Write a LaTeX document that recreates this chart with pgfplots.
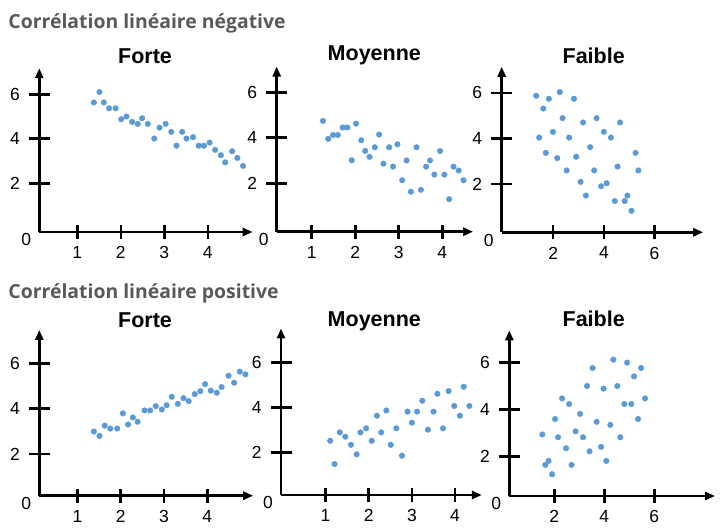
\documentclass[border=0pt]{standalone}
\usepackage{fontspec}
\setmainfont{Liberation Sans}
\newfontfamily\headfont{Open Sans}
\usepackage{pgfplots}
\pgfplotsset{compat=1.18}
\usetikzlibrary{arrows.meta}

\definecolor{dotblue}{HTML}{5B9BD5}
\definecolor{headgray}{HTML}{595959}

\pgfplotsset{
  nuage/.style={
    axis lines=left,
    clip=false,
    axis line style={line width=2.6pt, -{Triangle[length=10pt,width=8pt]}},
    tick style={line width=2.6pt, black},
    tick align=center,
    major tick length=14pt,
    ytick=\empty,
    extra y ticks={2,4,6},
    extra y tick style={major tick length=21pt},
    tick label style={inner sep=0pt, outer sep=0pt, font=\fontsize{17.5}{19}\selectfont},
    /pgf/number format/assume math mode=true,
    xticklabel shift=7.5pt,
    yticklabel shift=9pt,
    anchor=south west,
  },
  pts/.style={only marks, mark=*, mark size=2.8pt, color=dotblue},
}

\newcommand{\zero}{\node[anchor=north east, inner sep=0pt, font=\fontsize{17.5}{19}\selectfont]
  at (rel axis cs:0,0) [xshift=-8pt, yshift=-1.5pt] {0};}

\begin{document}
\begin{tikzpicture}
\useasboundingbox (0,0) rectangle (727pt,530pt);

% titres
\node[anchor=base west, inner sep=0pt, text=headgray, font=\headfont\bfseries\fontsize{19.4}{22}\selectfont]
  at (8.3pt,501.7pt) {Corrélation linéaire négative};
\node[anchor=base west, inner sep=0pt, text=headgray, font=\headfont\bfseries\fontsize{19.4}{22}\selectfont]
  at (8.3pt,231pt) {Corrélation linéaire positive};

\node[anchor=base, inner sep=0pt, font=\bfseries\fontsize{21.5}{24}\selectfont] at (145pt,466.7pt) {Forte};
\node[anchor=base, inner sep=0pt, font=\bfseries\fontsize{21.5}{24}\selectfont] at (374.3pt,469.3pt) {Moyenne};
\node[anchor=base, inner sep=0pt, font=\bfseries\fontsize{21.5}{24}\selectfont] at (593.7pt,466.7pt) {Faible};
\node[anchor=base, inner sep=0pt, font=\bfseries\fontsize{21.5}{24}\selectfont] at (145pt,202.7pt) {Forte};
\node[anchor=base, inner sep=0pt, font=\bfseries\fontsize{21.5}{24}\selectfont] at (374.3pt,203.3pt) {Moyenne};
\node[anchor=base, inner sep=0pt, font=\bfseries\fontsize{21.5}{24}\selectfont] at (593.7pt,203.3pt) {Faible};

% negative, forte
\begin{axis}[nuage, at={(39.3pt,298pt)}, x=43.5pt, y=22.25pt,
  xmin=0.126, xmax=5.03, ymin=-0.19, ymax=7.17, xtick={1,2,3,4}]
\addplot[pts] coordinates {
(1.38,5.63)(1.51,6.10)(1.61,5.63)(1.73,5.37)(1.88,5.37)(2.01,4.88)(2.13,5.00)
(2.26,4.76)(2.39,4.67)(2.49,4.92)(2.62,4.67)(2.77,4.01)(2.89,4.50)(3.03,4.67)
(3.16,4.31)(3.28,3.69)(3.41,4.31)(3.51,4.01)(3.66,4.07)(3.79,3.69)(3.91,3.69)
(4.04,3.83)(4.17,3.50)(4.30,3.26)(4.40,2.94)(4.56,3.44)(4.68,3.14)(4.81,2.78)
};
\zero
\end{axis}

% negative, moyenne
\begin{axis}[nuage, at={(276.7pt,298.3pt)}, x=43.5pt, y=22.75pt,
  xmin=0.195, xmax=4.71, ymin=-0.13, ymax=7.13, xtick={1,2,3,4}]
\addplot[pts] coordinates {
(1.26,4.74)(1.38,3.95)(1.49,4.12)(1.60,4.12)(1.71,4.45)(1.82,4.45)(1.92,3.01)
(2.02,4.62)(2.14,3.89)(2.23,3.42)(2.33,3.16)(2.45,3.58)(2.55,4.14)(2.65,2.86)
(2.78,3.58)(2.87,2.73)(2.97,3.71)(3.08,2.13)(3.18,3.00)(3.28,1.63)(3.41,3.58)
(3.51,1.71)(3.63,2.73)(3.72,3.00)(3.82,2.38)(3.95,3.42)(4.05,2.38)(4.16,1.30)
(4.26,2.73)(4.38,2.56)(4.49,2.13)
};
\zero
\end{axis}

% negative, faible
\begin{axis}[nuage, at={(501.7pt,297.7pt)}, x=25.35pt, y=22.83pt,
  xmin=-0.03, xmax=7.92, ymin=-0.11, ymax=7.14, xtick={2,4,6}]
\addplot[pts] coordinates {
(1.33,5.87)(1.83,5.74)(2.26,6.03)(2.82,5.74)(1.61,5.31)(2.37,4.89)(3.18,4.70)
(3.71,4.89)(4.64,4.70)(1.45,4.04)(1.99,4.29)(2.63,4.04)(4.00,4.29)(4.28,4.04)
(3.46,3.62)(1.71,3.37)(2.16,3.14)(2.91,3.20)(5.25,3.37)(2.53,2.60)(3.62,2.60)
(4.54,2.77)(5.36,2.60)(3.08,2.10)(3.89,1.91)(4.11,2.04)(3.29,1.50)(4.43,1.26)
(4.82,1.26)(4.93,1.50)(5.09,0.83)
};
\zero
\end{axis}

% positive, forte
\begin{axis}[nuage, at={(39.3pt,34.3pt)}, x=43.3pt, y=22.68pt,
  xmin=0.12, xmax=5.06, ymin=0.16, ymax=7.47, xtick={1,2,3,4}]
\addplot[pts] coordinates {
(1.38,2.99)(1.51,2.80)(1.63,3.25)(1.76,3.12)(1.92,3.12)(2.05,3.79)(2.17,3.30)
(2.28,3.61)(2.39,3.42)(2.55,3.92)(2.68,3.92)(2.81,4.11)(2.95,3.96)(3.06,4.15)
(3.18,4.52)(3.32,4.21)(3.45,4.46)(3.57,4.33)(3.71,4.64)(3.84,4.77)(3.95,5.08)
(4.08,4.79)(4.22,4.70)(4.33,4.95)(4.49,5.45)(4.62,5.14)(4.75,5.63)(4.88,5.51)
};
\zero
\end{axis}

% positive, moyenne
\begin{axis}[nuage, at={(281pt,35pt)}, x=43.2pt, y=22.6pt,
  xmin=-0.03, xmax=4.62, ymin=0.13, ymax=7.5, xtick={1,2,3,4}]
\addplot[pts] coordinates {
(1.11,2.53)(1.21,1.50)(1.33,2.90)(1.46,2.71)(1.59,2.35)(1.72,1.93)(1.81,2.90)
(1.94,3.08)(2.07,2.53)(2.19,3.64)(2.29,2.90)(2.41,3.87)(2.51,2.35)(2.64,3.08)
(2.77,1.87)(2.90,3.82)(3.00,3.33)(3.12,3.82)(3.24,4.30)(3.37,3.02)(3.50,3.82)
(3.59,4.61)(3.72,3.08)(3.85,4.73)(3.98,4.07)(4.11,3.64)(4.20,4.92)(4.33,4.07)
};
\zero
\end{axis}

% positive, faible
\begin{axis}[nuage, at={(509.3pt,34pt)}, x=25pt, y=23.4pt,
  xmin=0.2, xmax=8.43, ymin=0.3, ymax=7.38, xtick={2,4,6}]
\addplot[pts] coordinates {
(1.52,2.93)(1.64,1.63)(1.77,1.80)(1.91,1.23)(2.03,3.59)(2.15,2.81)(2.31,4.47)
(2.47,2.34)(2.59,4.23)(2.69,1.63)(2.85,3.06)(3.03,3.81)(3.15,2.81)(3.31,5.00)
(3.41,2.21)(3.53,5.77)(3.69,3.47)(3.87,2.40)(3.97,4.89)(4.08,1.80)(4.24,3.34)
(4.36,6.13)(4.52,5.00)(4.64,2.81)(4.80,4.23)(4.91,6.00)(5.08,4.23)(5.19,5.41)
(5.35,3.59)(5.47,5.77)(5.63,4.47)
};
\zero
\end{axis}
\end{tikzpicture}
\end{document}
